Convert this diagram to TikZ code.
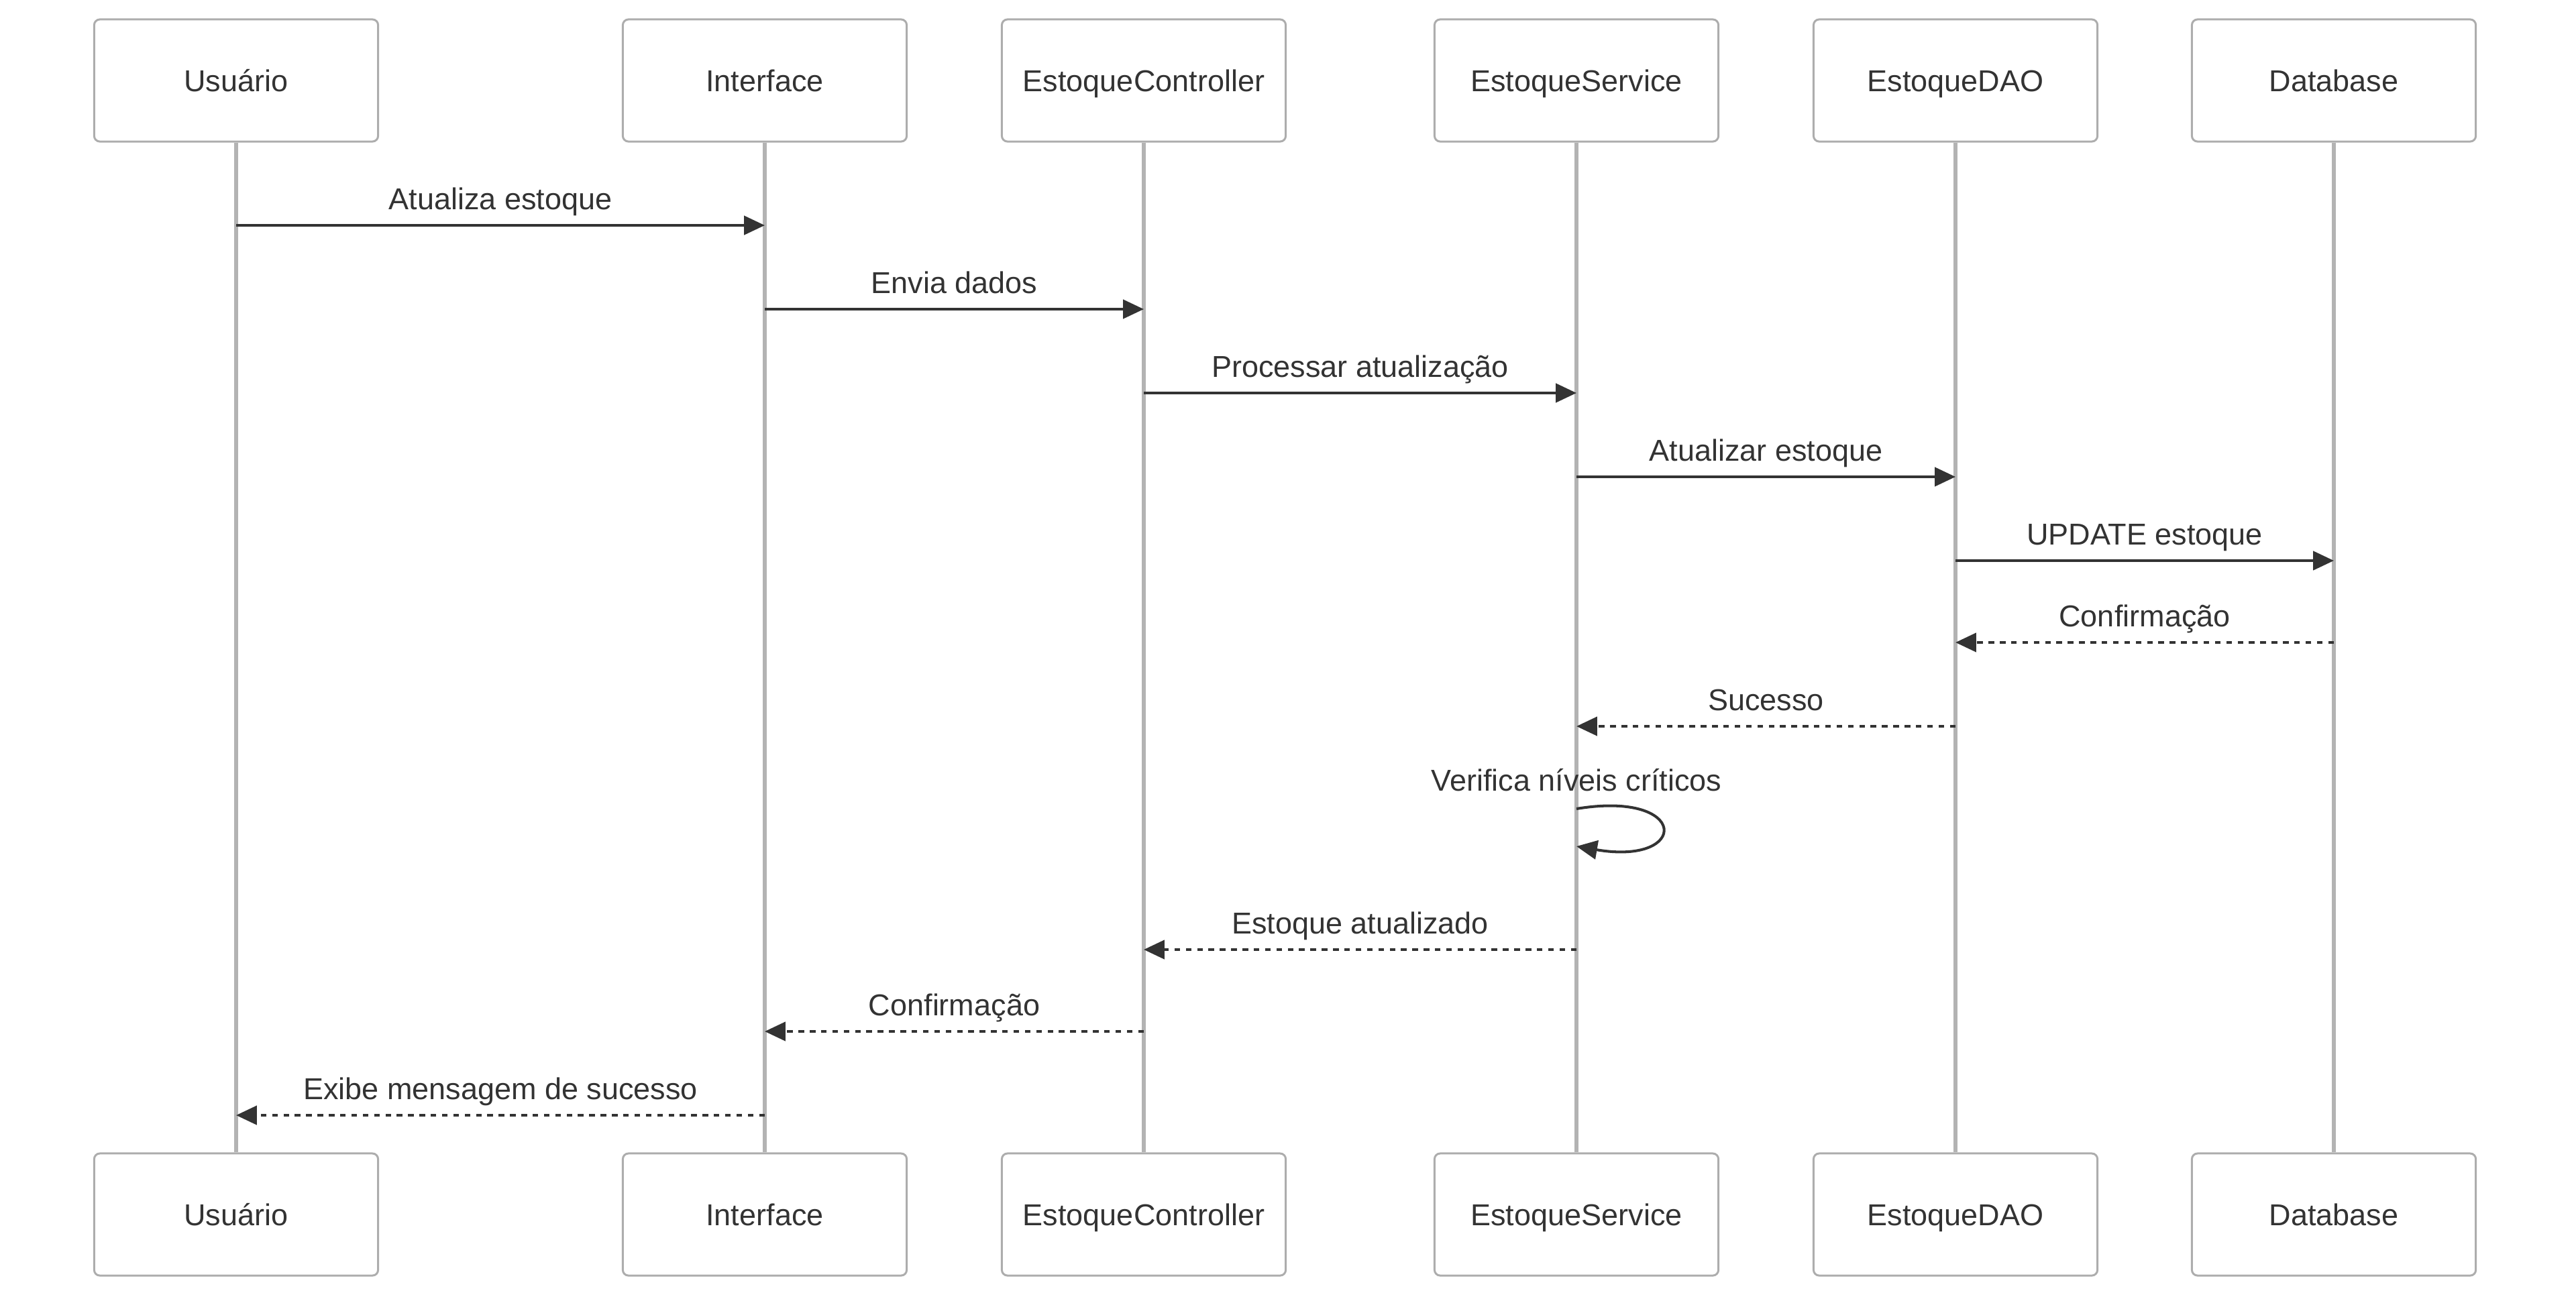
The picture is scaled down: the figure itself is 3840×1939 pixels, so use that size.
\documentclass[tikz,border=0pt]{standalone}
\usepackage{fontspec}
\setmainfont{Liberation Sans}
\usetikzlibrary{arrows.meta}
\definecolor{ink}{HTML}{333333}
\definecolor{lifegray}{HTML}{B3B3B3}
\definecolor{boxgray}{HTML}{ADADAD}
\tikzset{
  actor/.style={draw=boxgray,line width=.85pt,fill=white,rounded corners=2.4pt,
    minimum width=4.23cm,minimum height=1.82cm,inner sep=0pt,
    text height=9.2pt,text depth=0pt},
  life/.style={lifegray,line width=1.5pt},
  msg/.style={ink,line width=1.15pt,-{Triangle[length=8.8pt,width=8pt]}},
  reply/.style={msg,dash pattern=on 2.4pt off 2.4pt},
  lbl/.style={anchor=base,yshift=6.8pt}
}
\begin{document}
\begin{tikzpicture}[x=.01cm,y=-.01cm,every node/.style={font=\fontsize{12.8}{15}\selectfont,text=ink}]
    \useasboundingbox (0,0) rectangle (3840,1939);
    % participants, top and bottom
    \node[actor] (usu) at (352,120) {Usuário};
    \node[actor] (ifc) at (1140,120) {Interface};
    \node[actor] (ctl) at (1705,120) {EstoqueController};
    \node[actor] (svc) at (2350,120) {EstoqueService};
    \node[actor] (dao) at (2915,120) {EstoqueDAO};
    \node[actor] (db) at (3479,120) {Database};
    \node[actor] (usuB) at (352,1811) {Usuário};
    \node[actor] (ifcB) at (1140,1811) {Interface};
    \node[actor] (ctlB) at (1705,1811) {EstoqueController};
    \node[actor] (svcB) at (2350,1811) {EstoqueService};
    \node[actor] (daoB) at (2915,1811) {EstoqueDAO};
    \node[actor] (dbB) at (3479,1811) {Database};
    % lifelines
    \draw[life] (usu) -- (usuB) (ifc) -- (ifcB) (ctl) -- (ctlB)
        (svc) -- (svcB) (dao) -- (daoB) (db) -- (dbB);
    % message rows
    \coordinate (m1) at (0,336);
    \coordinate (m2) at (0,461);
    \coordinate (m3) at (0,586);
    \coordinate (m4) at (0,711);
    \coordinate (m5) at (0,836);
    \coordinate (m6) at (0,958);
    \coordinate (m7) at (0,1083);
    \coordinate (m8) at (0,1206);
    \coordinate (m8e) at (0,1262);
    \coordinate (m9) at (0,1416);
    \coordinate (m10) at (0,1538);
    \coordinate (m11) at (0,1663);
    \draw[msg] (usu |- m1) -- (ifc |- m1) node[midway,lbl] {Atualiza estoque};
    \draw[msg] (ifc |- m2) -- (ctl |- m2) node[midway,lbl] {Envia dados};
    \draw[msg] (ctl |- m3) -- (svc |- m3) node[midway,lbl] {Processar atualização};
    \draw[msg] (svc |- m4) -- (dao |- m4) node[midway,lbl] {Atualizar estoque};
    \draw[msg] (dao |- m5) -- (db |- m5) node[midway,lbl] {UPDATE estoque};
    \draw[reply] (db |- m6) -- (dao |- m6) node[midway,lbl] {Confirmação};
    \draw[reply] (dao |- m7) -- (svc |- m7) node[midway,lbl] {Sucesso};
    \draw[msg] (svc |- m8) node[lbl,yshift=.6pt] {Verifica níveis críticos}
        .. controls +(169,-28) and +(169,29) .. (svc |- m8e);
    \draw[reply] (svc |- m9) -- (ctl |- m9) node[midway,lbl] {Estoque atualizado};
    \draw[reply] (ctl |- m10) -- (ifc |- m10) node[midway,lbl] {Confirmação};
    \draw[reply] (ifc |- m11) -- (usu |- m11) node[midway,lbl] {Exibe mensagem de sucesso};
\end{tikzpicture}
\end{document}
